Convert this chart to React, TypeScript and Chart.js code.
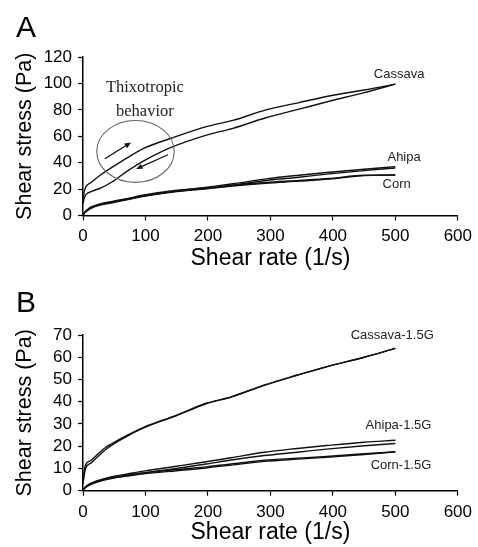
import React, { useEffect, useRef } from "react";
import { Chart, registerables } from "chart.js";

Chart.register(...registerables);

// ---- Panel A: native starches (up and down flow curves) ----
const rateA = [0, 2, 5, 13, 29, 45, 72, 98, 141, 199, 240, 293, 346, 394, 450, 500];
const cassavaUpA = [12, 18, 22, 25, 31, 36, 44, 51, 58.5, 67.5, 72, 80, 85.5, 90.5, 95, 99.5];
const cassavaDownA = [9, 13, 16, 18, 21, 25, 34, 41.5, 51.5, 61, 66, 74, 80.5, 86.5, 93, 99.5];
const ahipaUpA = [0, 1.5, 3, 6, 8.5, 10, 12.5, 15, 18, 21.5, 24, 27.7, 30.5, 32.7, 35, 37];
const ahipaDownA = [1, 2, 3.5, 5.5, 8, 9.5, 12, 14.5, 17.5, 20.5, 23, 26.5, 29, 31.5, 34, 36];
const cornUpA = [0, 2, 3.5, 6.5, 9, 10.5, 13, 15.5, 18.5, 21, 23, 25, 26.5, 28, 30.5, 30.7];
const cornDownA = [0.5, 2, 3, 6, 8.5, 10, 12.5, 15, 18, 20.3, 22.3, 24.4, 26, 27.6, 30.2, 30.7];

// ---- Panel B: starches with 1.5% gum ----
const rateB = [0, 2, 4, 13, 34, 45, 71, 97, 150, 197, 237, 290, 343, 390, 450, 500];
const cassavaUpB = [4, 9, 11.5, 13.7, 19, 21, 25, 28.5, 34, 39.3, 42.2, 47.5, 52, 55.8, 60, 64];
const cassavaDownB = [3, 7, 10, 12.5, 18, 20.3, 24.5, 28.2, 33.8, 39.1, 42.1, 47.4, 51.9, 55.7, 60, 64];
const ahipaUpB = [0, 0.8, 1.5, 3.2, 5.2, 6.2, 7.5, 8.8, 11, 13, 14.8, 17.3, 19, 20.3, 21.8, 22.7];
const ahipaDownB = [0.5, 1, 1.5, 3, 4.8, 5.5, 7, 8, 10, 12, 13.8, 15.8, 17.3, 18.7, 20.2, 21.2];
const cornUpB = [0, 1, 1.8, 3.4, 5.4, 6, 7, 8, 9.5, 10.7, 12, 13.7, 14.6, 15.4, 16.6, 17.5];
const cornDownB = [0, 0.8, 1.5, 3, 5, 5.6, 6.6, 7.6, 9, 10.2, 11.5, 13.2, 14.2, 15, 16.3, 17.5];

// Axis tick values
const rateTicks = [0, 100, 200, 300, 400, 500, 600];
const stressTicksA = [0, 20, 40, 60, 80, 100, 120];
const stressTicksB = [0, 10, 20, 30, 40, 50, 60, 70];

// Curve labels, placed in data units (shear rate, shear stress)
const labelsA = [
  { text: "Cassava", x: 506, y: 107 },
  { text: "Ahipa", x: 514, y: 43.8 },
  { text: "Corn", x: 502, y: 23.4 },
];
const labelsB = [
  { text: "Cassava-1.5G", x: 495, y: 70 },
  { text: "Ahipa-1.5G", x: 505, y: 29.5 },
  { text: "Corn-1.5G", x: 509, y: 11.5 },
];
const noteLines = [
  { text: "Thixotropic", x: 99, y: 97 },
  { text: "behavior", x: 99, y: 78.5 },
];
const loopEllipse = { cx: 84, cy: 48.5, rx: 62, ry: 23.4 };
const loopArrows = [
  { x0: 35, y0: 43, x1: 77, y1: 55.3 },
  { x0: 136, y0: 46, x1: 85, y1: 35.2 },
];

const SANS = "'Liberation Sans', Arial, sans-serif";
const SERIF = "'Liberation Serif', 'Times New Roman', serif";

function series(xs: number[], ys: number[]) {
  return {
    data: xs.map((x, i) => ({ x, y: ys[i] })),
    borderColor: "#111",
    borderWidth: 1.4,
    pointRadius: 0,
    fill: false,
    cubicInterpolationMode: "monotone" as const,
  };
}

type PanelCfg = {
  letter: string;
  yMax: number;
  stressTicks: number[];
  datasets: any[];
  labels: { text: string; x: number; y: number }[];
  withNote: boolean;
  padTop: number;
  padRight: number;
  xBoxHeight: number;
  xTitlePad: number;
};

function makeAnnotations(cfg: PanelCfg) {
  return {
    id: "panelAnnotations",
    afterDraw(chart: any) {
      const { ctx } = chart;
      const xs = chart.scales.x;
      const ys = chart.scales.y;
      const px = (v: number) => xs.getPixelForValue(v);
      const py = (v: number) => ys.getPixelForValue(v);
      ctx.save();
      // panel letter
      ctx.fillStyle = "#000";
      ctx.font = `30px ${SANS}`;
      ctx.textAlign = "left";
      ctx.textBaseline = "alphabetic";
      ctx.fillText(cfg.letter, 16, 37);

      // curve labels
      ctx.font = `13px ${SANS}`;
      ctx.fillStyle = "#222";
      ctx.textAlign = "center";
      ctx.textBaseline = "middle";
      for (const l of cfg.labels) ctx.fillText(l.text, px(l.x), py(l.y));

      if (cfg.withNote) {
        ctx.font = `16.5px ${SERIF}`;
        ctx.fillStyle = "#222";
        for (const l of noteLines) ctx.fillText(l.text, px(l.x), py(l.y));

        // ellipse around the hysteresis loop
        const cx = px(loopEllipse.cx);
        const cy = py(loopEllipse.cy);
        const rx = Math.abs(px(loopEllipse.cx + loopEllipse.rx) - cx);
        const ry = Math.abs(py(loopEllipse.cy + loopEllipse.ry) - cy);
        ctx.strokeStyle = "#666";
        ctx.lineWidth = 1.1;
        ctx.beginPath();
        ctx.ellipse(cx, cy, rx, ry, 0, 0, Math.PI * 2);
        ctx.stroke();

        // direction arrows
        ctx.strokeStyle = "#111";
        ctx.fillStyle = "#111";
        ctx.lineWidth = 1.3;
        for (const a of loopArrows) {
          const x0 = px(a.x0), y0 = py(a.y0), x1 = px(a.x1), y1 = py(a.y1);
          const ang = Math.atan2(y1 - y0, x1 - x0);
          const hl = 7;
          ctx.beginPath();
          ctx.moveTo(x0, y0);
          ctx.lineTo(x1 - Math.cos(ang) * 4, y1 - Math.sin(ang) * 4);
          ctx.stroke();
          ctx.beginPath();
          ctx.moveTo(x1, y1);
          ctx.lineTo(x1 - hl * Math.cos(ang - 0.4), y1 - hl * Math.sin(ang - 0.4));
          ctx.lineTo(x1 - hl * Math.cos(ang + 0.4), y1 - hl * Math.sin(ang + 0.4));
          ctx.closePath();
          ctx.fill();
        }
      }
      ctx.restore();
    },
  };
}

function Panel({ cfg, width, height }: { cfg: PanelCfg; width: number; height: number }) {
  const ref = useRef<HTMLCanvasElement | null>(null);
  useEffect(() => {
    if (!ref.current) return;
    const tickFont = { family: SANS, size: 17 };
    const axisGrid = {
      display: true,
      drawOnChartArea: false,
      drawTicks: true,
      tickLength: 5,
      tickColor: "#000",
      tickWidth: 1.2,
    };
    const chart = new Chart(ref.current, {
      type: "line",
      data: { datasets: cfg.datasets },
      plugins: [makeAnnotations(cfg)],
      options: {
        responsive: false,
        animation: false,
        devicePixelRatio: 1,
        layout: { padding: { top: cfg.padTop, right: cfg.padRight, bottom: 0, left: 0 } },
        plugins: { legend: { display: false }, tooltip: { enabled: false } },
        scales: {
          x: {
            type: "linear",
            min: 0,
            max: 600,
            afterBuildTicks: (s: any) => {
              s.ticks = rateTicks.map((v) => ({ value: v }));
            },
            afterFit: (s: any) => {
              s.height = cfg.xBoxHeight;
            },
            ticks: { color: "#000", font: tickFont, padding: 6, maxRotation: 0, autoSkip: false },
            grid: axisGrid,
            border: { display: true, color: "#000", width: 1.5 },
            title: {
              display: true,
              text: "Shear rate (1/s)",
              color: "#000",
              font: { family: SANS, size: 23 },
              padding: { top: 0, bottom: cfg.xTitlePad },
            },
          },
          y: {
            type: "linear",
            min: 0,
            max: cfg.yMax,
            afterBuildTicks: (s: any) => {
              s.ticks = cfg.stressTicks.map((v) => ({ value: v }));
            },
            afterFit: (s: any) => {
              s.width = 83;
            },
            ticks: { color: "#000", font: tickFont, padding: 6, autoSkip: false },
            grid: axisGrid,
            border: { display: true, color: "#000", width: 1.5 },
            title: {
              display: true,
              text: "Shear stress (Pa)",
              color: "#000",
              font: { family: SANS, size: 21.5 },
              padding: { top: 12, bottom: 0 },
            },
          },
        },
      } as any,
    });
    return () => chart.destroy();
  }, [cfg]);
  return <canvas ref={ref} width={width} height={height} style={{ display: "block" }} />;
}

const panelA: PanelCfg = {
  letter: "A",
  yMax: 120,
  stressTicks: stressTicksA,
  datasets: [
    series(rateA, cassavaUpA),
    series(rateA, cassavaDownA),
    series(rateA, ahipaUpA),
    series(rateA, ahipaDownA),
    series(rateA, cornUpA),
    series(rateA, cornDownA),
  ],
  labels: labelsA,
  withNote: true,
  padTop: 57,
  padRight: 19,
  xBoxHeight: 59.5,
  xTitlePad: 3,
};

const panelB: PanelCfg = {
  letter: "B",
  yMax: 70,
  stressTicks: stressTicksB,
  datasets: [
    series(rateB, cassavaUpB),
    series(rateB, cassavaDownB),
    series(rateB, ahipaUpB),
    series(rateB, ahipaDownB),
    series(rateB, cornUpB),
    series(rateB, cornDownB),
  ],
  labels: labelsB,
  withNote: false,
  padTop: 60,
  padRight: 15,
  xBoxHeight: 56.3,
  xTitlePad: 1,
};

export default function App() {
  return (
    <div
      style={{
        position: "absolute",
        left: 0,
        top: 0,
        width: 478,
        height: 547,
        background: "#fff",
        overflow: "hidden",
      }}
    >
      <div style={{ position: "absolute", left: 0, top: 0 }}>
        <Panel cfg={panelA} width={478} height={275} />
      </div>
      <div style={{ position: "absolute", left: 0, top: 275 }}>
        <Panel cfg={panelB} width={478} height={272} />
      </div>
    </div>
  );
}
